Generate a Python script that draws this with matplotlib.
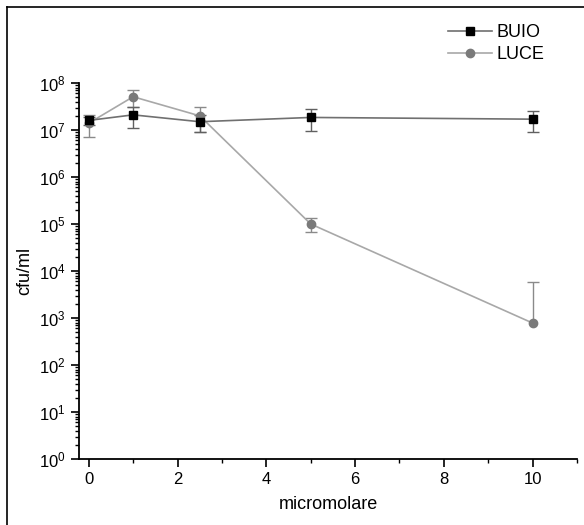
import matplotlib
matplotlib.use('Agg')
import matplotlib.pyplot as plt
import numpy as np
from matplotlib.lines import Line2D
from matplotlib.ticker import LogLocator, MultipleLocator, LogFormatterSciNotation, NullFormatter

plt.rcParams['font.family'] = ['Liberation Sans', 'DejaVu Sans']
plt.rcParams['mathtext.default'] = 'regular'

x = [0, 1, 2.5, 5, 10]
buio = [1.6e7, 2.1e7, 1.5e7, 1.85e7, 1.7e7]
buio_err = [3e6, 1.0e7, 6e6, 9e6, 8e6]
luce = [1.4e7, 5.1e7, 2.0e7, 1.0e5, 7.8e2]
luce_err_low = [7e6, 2.0e7, 1.1e7, 3.2e4, 0]
luce_err_high = [7e6, 2.0e7, 1.1e7, 3.2e4, 5.0e3]

fig = plt.figure(figsize=(5.84, 5.25), dpi=100)
ax = fig.add_axes([79/584, 1-459/525, (577-79)/584, (459-83)/525])

# error bars first, then lines + markers on top
eb = ax.errorbar(x, luce, yerr=[luce_err_low, luce_err_high], fmt='none', ecolor='#8a8a8a',
                 elinewidth=1, capsize=4, capthick=1, zorder=2)
# lower bar of last point goes off the log axis -> no lower cap there
low_cap = eb.lines[1][0]
cx, cy = low_cap.get_data()
keep = np.array(luce_err_low) > 0
low_cap.set_data(np.asarray(cx)[keep], np.asarray(cy)[keep])

ax.errorbar(x, buio, yerr=buio_err, fmt='none', ecolor='#606060', elinewidth=1,
            capsize=4, capthick=1, zorder=3)
ax.plot(x, luce, color='#a8a8a8', lw=1.2, marker='o', ms=6,
        mfc='#7a7a7a', mec='#7a7a7a', zorder=4, label='LUCE')
ax.plot(x, buio, color='#707070', lw=1.2, marker='s', ms=5.5,
        mfc='black', mec='black', zorder=5, label='BUIO')

ax.set_yscale('log')
ax.set_ylim(1, 1e8)
ax.set_xlim(-0.22, 11)
ax.xaxis.set_major_locator(MultipleLocator(2))
ax.xaxis.set_minor_locator(MultipleLocator(1))
ax.yaxis.set_major_locator(LogLocator(base=10, numticks=20))
ax.yaxis.set_minor_locator(LogLocator(base=10, subs=range(2, 10), numticks=20))
ax.yaxis.set_major_formatter(LogFormatterSciNotation())
ax.yaxis.set_minor_formatter(NullFormatter())

for s in ['top', 'right']:
    ax.spines[s].set_visible(False)
for s in ['left', 'bottom']:
    ax.spines[s].set_linewidth(1.3)
ax.tick_params(which='major', direction='out', length=6, width=1.2, labelsize=12)
ax.tick_params(which='minor', direction='out', length=3, width=1)

ax.set_xlabel('micromolare', fontsize=13, labelpad=6)
ax.set_ylabel('cfu/ml', fontsize=13)

h, l = ax.get_legend_handles_labels()
ax.legend(h[::-1], l[::-1], loc='upper right', bbox_to_anchor=(0.968, 1.199),
          frameon=False, fontsize=13, handlelength=2.4, handletextpad=0.3,
          labelspacing=0.25)

fig.add_artist(Line2D([7/584, 7/584], [0, 1-7/525], color='black', lw=1.2))
fig.add_artist(Line2D([7/584, 1], [1-7/525, 1-7/525], color='black', lw=1.2))

fig.savefig('out.png', dpi=100)
